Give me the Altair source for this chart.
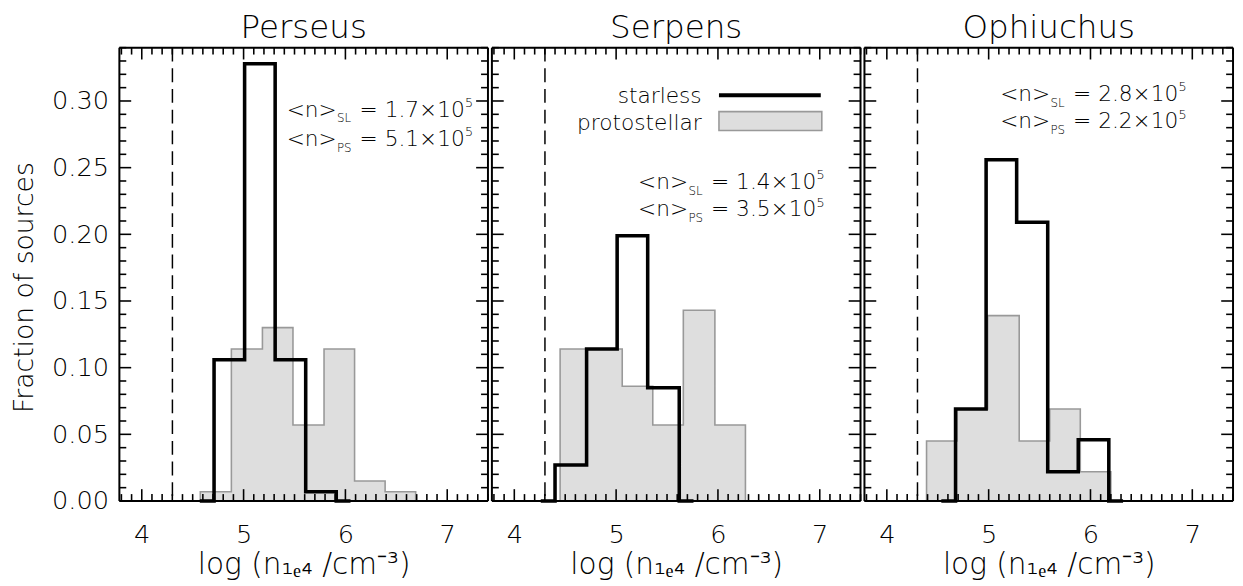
import altair as alt
import numpy as np
import pandas as pd

PANELS = ["Perseus", "Serpens", "Ophiuchus"]

# starless (black step outline): bin edges and fraction of sources
SL_EDGES = {
    "Perseus": [4.71, 5.01, 5.31, 5.61, 5.91],
    "Serpens": [4.40, 4.71, 5.01, 5.31, 5.62],
    "Ophiuchus": [4.675, 4.975, 5.275, 5.58, 5.88, 6.18],
}
SL_FRAC = {
    "Perseus": [0.106, 0.328, 0.106, 0.007],
    "Serpens": [0.027, 0.114, 0.199, 0.085],
    "Ophiuchus": [0.069, 0.256, 0.209, 0.022, 0.046],
}
# protostellar (grey filled): bin edges and fraction of sources
PS_EDGES = {
    "Perseus": [4.575, 4.88, 5.185, 5.485, 5.79, 6.09, 6.39, 6.69],
    "Serpens": [4.45, 4.755, 5.06, 5.36, 5.66, 5.97, 6.27],
    "Ophiuchus": [4.39, 4.69, 4.99, 5.30, 5.60, 5.90, 6.20],
}
PS_FRAC = {
    "Perseus": [0.007, 0.114, 0.130, 0.057, 0.114, 0.015, 0.007],
    "Serpens": [0.114, 0.114, 0.086, 0.057, 0.143, 0.057],
    "Ophiuchus": [0.045, 0.069, 0.139, 0.045, 0.069, 0.022],
}
MEAN_SL = {"Perseus": "1.7", "Serpens": "1.4", "Ophiuchus": "2.8"}
MEAN_PS = {"Perseus": "5.1", "Serpens": "3.5", "Ophiuchus": "2.2"}
EXPONENT = "5"
THRESHOLD = 4.301  # log10(2e4 cm^-3)
X_TICKS = [4, 5, 6, 7]
Y_TICKS = [0.00, 0.05, 0.10, 0.15, 0.20, 0.25, 0.30]
LEGEND_LABELS = ["starless", "protostellar"]

# ---- layout / style ----
FONT = "DejaVu Sans"
FW = 200
W, H = 374, 460
XDOM = [3.78, 7.4]
YDOM = [0.0, 0.34]
STUB = 0.14
# annotation anchors (data coords of the first line's baseline start), line gap
ANN = {"Perseus": (5.423, 0.2883, 0.0222),
       "Serpens": (5.216, 0.2341, 0.0207),
       "Ophiuchus": (5.113, 0.3001, 0.0207)}

x_minor = [round(v, 2) for v in np.arange(3.8, 7.401, 0.1) if abs(v - round(v)) > 1e-6]
y_minor = [round(v, 2) for v in np.arange(0.0, 0.3401, 0.01) if round(v * 100) % 5 != 0]

xs = alt.Scale(domain=XDOM, nice=False, zero=False)
ys = alt.Scale(domain=YDOM, nice=False, zero=False)


def panel(name, first):
    xaxis = alt.Axis(values=X_TICKS, title="log (n₁ₑ₄ /cm⁻³)", ticks=False, domain=False,
                     grid=False, labelFontSize=26, labelPadding=21, titleFontSize=30,
                     titlePadding=3, labelFont=FONT, titleFont=FONT, labelFontWeight=FW,
                     titleFontWeight=FW, labelColor="black", titleColor="black", labelFlush=False)
    if first:
        yaxis = alt.Axis(values=Y_TICKS, format=".2f", title="Fraction of sources", ticks=False,
                         domain=False, grid=False, labelFontSize=26, labelPadding=11,
                         titleFontSize=27, titlePadding=13, titleY=243, labelFont=FONT,
                         titleFont=FONT, labelFontWeight=FW, titleFontWeight=FW,
                         labelColor="black", titleColor="black", labelFlush=False)
    else:
        yaxis = None
    X = alt.X("x:Q", scale=xs, axis=xaxis)
    Y = alt.Y("y:Q", scale=ys, axis=yaxis)

    # protostellar step polygon
    pe, pf = PS_EDGES[name], PS_FRAC[name]
    ps_pts = [(pe[0], 0.0)] + list(zip(pe[:-1], pf)) + [(pe[-1], 0.0)]
    ps_df = pd.DataFrame(ps_pts, columns=["x", "y"])
    ps_df["i"] = range(len(ps_df))
    area = alt.Chart(ps_df.iloc[1:]).mark_area(interpolate="step-after", fill="#dedede",
                                                 opacity=1).encode(x=X, y=Y)
    ps_line = alt.Chart(ps_df).mark_line(interpolate="step-after", color="#999999",
                                         strokeWidth=1.6).encode(x=X, y=Y, order="i:Q")

    # starless step outline
    se, sf = SL_EDGES[name], SL_FRAC[name]
    sl_pts = [(se[0] - STUB, 0.0)] + list(zip(se[:-1], sf)) + [(se[-1], 0.0), (se[-1] + STUB, 0.0)]
    sl_df = pd.DataFrame(sl_pts, columns=["x", "y"])
    sl_df["i"] = range(len(sl_df))
    sl_line = alt.Chart(sl_df).mark_line(interpolate="step-after", color="black",
                                         strokeWidth=3.6).encode(x=X, y=Y, order="i:Q")

    dash = alt.Chart(pd.DataFrame({"x": [THRESHOLD]})).mark_rule(
        color="black", strokeWidth=1.5, strokeDash=[14, 7]).encode(x=X)

    # inward ticks on all four sides
    def xt(vals, ln):
        d = pd.DataFrame({"x": vals})
        bot = alt.Chart(d).mark_rule(color="black", strokeWidth=1.6).encode(
            x=X, y=alt.value(H), y2=alt.value(H - ln))
        top = alt.Chart(d).mark_rule(color="black", strokeWidth=1.6).encode(
            x=X, y=alt.value(0), y2=alt.value(ln))
        return [bot, top]

    def yt(vals, ln):
        d = pd.DataFrame({"y": vals})
        lft = alt.Chart(d).mark_rule(color="black", strokeWidth=1.6).encode(
            y=Y, x=alt.value(0), x2=alt.value(ln))
        rgt = alt.Chart(d).mark_rule(color="black", strokeWidth=1.6).encode(
            y=Y, x=alt.value(W), x2=alt.value(W - ln))
        return [lft, rgt]

    ticks = xt(X_TICKS, 12) + xt(x_minor, 7) + yt(Y_TICKS, 12) + yt(y_minor, 7)

    # plot frame
    one = pd.DataFrame({"d": [0]})
    fkw = dict(color="black", strokeWidth=2)
    frame = [
        alt.Chart(one).mark_rule(**fkw).encode(x=alt.value(0), x2=alt.value(W), y=alt.value(0)),
        alt.Chart(one).mark_rule(**fkw).encode(x=alt.value(0), x2=alt.value(W), y=alt.value(H)),
        alt.Chart(one).mark_rule(**fkw).encode(y=alt.value(0), y2=alt.value(H), x=alt.value(0)),
        alt.Chart(one).mark_rule(**fkw).encode(y=alt.value(0), y2=alt.value(H), x=alt.value(W)),
    ]

    # annotation <n>_SL / <n>_PS
    ax, ay, gap = ANN[name]
    ann = pd.DataFrame({
        "x": [ax, ax], "y": [ay, ay - gap],
        "a": ["<n>", "<n>"], "sub": ["SL", "PS"],
        "val": [f"= {MEAN_SL[name]}×10", f"= {MEAN_PS[name]}×10"],
        "exp": [EXPONENT, EXPONENT],
    })
    tkw = dict(align="left", baseline="alphabetic", font=FONT, fontWeight=FW, color="black")
    texts = [
        alt.Chart(ann).mark_text(fontSize=22, dx=0, **tkw).encode(x=X, y=Y, text="a:N"),
        alt.Chart(ann).mark_text(fontSize=12, dx=51, dy=6, **tkw).encode(x=X, y=Y, text="sub:N"),
        alt.Chart(ann).mark_text(fontSize=22, dx=74, **tkw).encode(x=X, y=Y, text="val:N"),
        alt.Chart(ann).mark_text(fontSize=13, dx=181, dy=-10, **tkw).encode(x=X, y=Y, text="exp:N"),
    ]

    layers = [area, ps_line, sl_line, dash] + ticks + frame + texts

    if name == "Serpens":
        lt = pd.DataFrame({"x": [5.84, 5.84], "y": [0.2988, 0.2779], "t": LEGEND_LABELS})
        leg_text = alt.Chart(lt).mark_text(align="right", baseline="alphabetic", fontSize=22,
                                           font=FONT, fontWeight=FW, color="black").encode(
            x=X, y=Y, text="t:N")
        leg_line = alt.Chart(pd.DataFrame({"x": [6.01], "x2": [7.01], "y": [0.3043]})).mark_rule(
            color="black", strokeWidth=4).encode(x=X, x2="x2:Q", y=Y)
        leg_box = alt.Chart(pd.DataFrame({"x": [6.01], "x2": [7.02], "y": [0.2920],
                                          "y2": [0.2779]})).mark_rect(
            fill="#dedede", stroke="#999999", strokeWidth=1.6).encode(x=X, x2="x2:Q", y=Y, y2="y2:Q")
        layers += [leg_box, leg_line, leg_text]

    return alt.layer(*layers).properties(
        width=W, height=H,
        title=alt.TitleParams(name, fontSize=33, font=FONT, fontWeight=FW, color="black",
                              offset=2, anchor="middle"))


chart = alt.hconcat(*[panel(n, i == 0) for i, n in enumerate(PANELS)], spacing=0).properties(
    padding={"left": 2, "top": -1, "right": 0, "bottom": 0}
).configure_view(stroke=None).configure(background="white")

chart.save("out.html", embed_options={"renderer": "svg", "actions": False})
